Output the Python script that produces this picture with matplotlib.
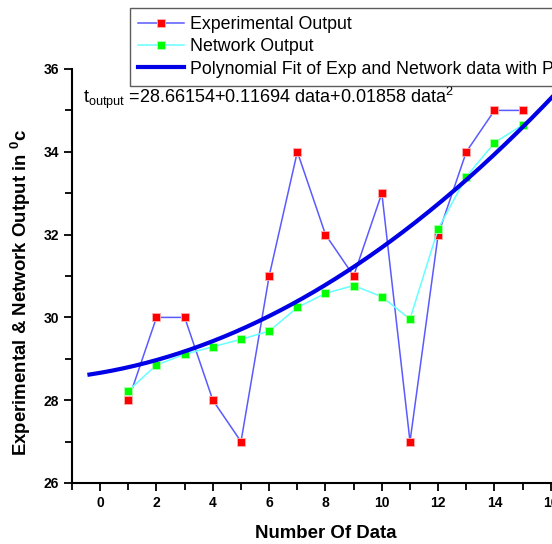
import matplotlib
matplotlib.use("Agg")
import matplotlib.pyplot as plt
import numpy as np
from matplotlib.ticker import MultipleLocator

plt.rcParams['font.family'] = ['Liberation Sans', 'DejaVu Sans']
plt.rcParams['mathtext.default'] = 'regular'

# Datos
numero_dato = [1, 2, 3, 4, 5, 6, 7, 8, 9, 10, 11, 12, 13, 14, 15]
salida_experimental = [28, 30, 30, 28, 27, 31, 34, 32, 31, 33, 27, 32, 34, 35, 35]
salida_red = [28.23, 28.85, 29.11, 29.29, 29.47, 29.67, 30.24, 30.58, 30.77,
              30.5, 29.96, 32.14, 33.4, 34.22, 34.65]
coeficientes = [28.66154, 0.11694, 0.01858]  # a + b*x + c*x^2
rango_ajuste = [-0.38, 16.6]

fig = plt.figure(figsize=(5.52, 5.44), dpi=100)
ax = fig.add_axes([72 / 552, 1 - 483 / 544, 507 / 552, 414 / 544])

# Curva de ajuste polinomial
x_fit = np.linspace(rango_ajuste[0], rango_ajuste[1], 300)
y_fit = coeficientes[0] + coeficientes[1] * x_fit + coeficientes[2] * x_fit ** 2

ax.plot(numero_dato, salida_experimental, color='#5a5aff', linewidth=1.1,
        marker='s', markersize=6, markerfacecolor='#ff0000',
        markeredgecolor='#ffb0b0', markeredgewidth=0.6,
        label='Experimental Output', zorder=3)
ax.plot(numero_dato, salida_red, color='#66ffff', linewidth=1.1,
        marker='s', markersize=6, markerfacecolor='#00ff00',
        markeredgecolor='#b0ffb0', markeredgewidth=0.6,
        label='Network Output', zorder=4)
ax.plot(x_fit, y_fit, color='#0000e6', linewidth=3,
        label='Polynomial Fit of Exp and Network data with Polynomial Fit',
        zorder=5)

ax.set_xlim(-1, 17)
ax.set_ylim(26, 36)
ax.xaxis.set_major_locator(MultipleLocator(2))
ax.xaxis.set_minor_locator(MultipleLocator(1))
ax.yaxis.set_major_locator(MultipleLocator(2))
ax.yaxis.set_minor_locator(MultipleLocator(1))
ax.tick_params(which='major', direction='out', length=6, width=1.3)
ax.tick_params(which='minor', direction='out', length=5, width=1.3)
for lab in ax.get_xticklabels() + ax.get_yticklabels():
    lab.set_fontweight('bold')
    lab.set_fontsize(10)

ax.spines['top'].set_visible(False)
ax.spines['right'].set_visible(False)
ax.spines['left'].set_linewidth(1.5)
ax.spines['bottom'].set_linewidth(1.5)

ax.set_xlabel('Number Of Data', fontsize=13.4, fontweight='bold', va='center')
ax.xaxis.set_label_coords(0.5, -(533 - 483) / 414)
ax.set_ylabel('Experimental & Network Output in $^0$c', fontsize=13.4,
              fontweight='bold', va='center')
ax.yaxis.set_label_coords(-(72 - 21) / 507, (483 - 292) / 414)

ax.text(83 / 552, 1 - 98 / 544,
        't$_{output}$ =28.66154+0.11694 data+0.01858 data$^{2}$',
        transform=fig.transFigure, fontsize=13, va='center', ha='left')

leg = fig.legend(loc='upper left', bbox_to_anchor=(130 / 552, 1 - 8 / 544),
                 borderaxespad=0, fontsize=12.8, frameon=True, fancybox=False,
                 handlelength=2.6, borderpad=0.45, labelspacing=0.3,
                 handletextpad=0.35)
leg.get_frame().set_edgecolor('#333333')
leg.get_frame().set_linewidth(1.0)

fig.savefig('out.png', dpi=100)
